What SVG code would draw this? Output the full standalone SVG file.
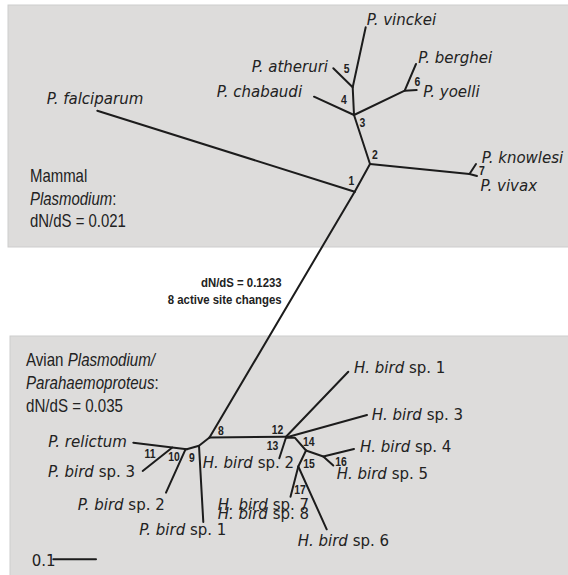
<svg xmlns="http://www.w3.org/2000/svg" width="568" height="575" viewBox="0 0 568 575">
  <style>
    .panel { fill: #dddcdb; stroke: #cdcdcd; stroke-width: 1; }
    .br { stroke: #1c1c1c; stroke-width: 2; fill: none; stroke-linecap: round; stroke-linejoin: round; }
    .taxon { font-family: "DejaVu Sans", Verdana, sans-serif; font-size: 15px; fill: #222; }
    .it { font-style: italic; }
    .head { font-family: "Liberation Sans", Arial, sans-serif; font-size: 18px; fill: #222; }
    .num { font-family: "Liberation Sans", Arial, sans-serif; font-size: 13px; font-weight: bold; fill: #222; text-anchor: middle; }
    .note { font-family: "Liberation Sans", Arial, sans-serif; font-size: 12px; font-weight: bold; fill: #222; text-anchor: end; }
  </style>

  <rect width="568" height="575" fill="#ffffff"/>

  <!-- clade panels -->
  <g id="panel-mammal">
    <rect class="panel" x="8" y="5" width="562" height="242"/>
    <text class="head" transform="translate(30,182) scale(0.83,1)">Mammal</text>
    <text class="head" transform="translate(30,204.5) scale(0.83,1)"><tspan class="it">Plasmodium</tspan>:</text>
    <text class="head" transform="translate(30,227) scale(0.83,1)">dN/dS = 0.021</text>
  </g>
  <g id="panel-avian">
    <rect class="panel" x="10" y="336" width="560" height="240"/>
    <text class="head" transform="translate(26,366) scale(0.84,1)">Avian <tspan class="it">Plasmodium/</tspan></text>
    <text class="head" transform="translate(26,389) scale(0.84,1)"><tspan class="it">Parahaemoproteus</tspan>:</text>
    <text class="head" transform="translate(26,412) scale(0.84,1)">dN/dS = 0.035</text>
  </g>

  <!-- branches -->
  <g id="connectors">
    <!-- mammal subtree -->
    <polyline class="br" points="97.3,110.7 354.7,191.7"/>
    <polyline class="br" points="354.7,191.7 370,164 354,115"/>
    <polyline class="br" points="370,164 469.5,174"/>
    <polyline class="br" points="476,164 469.5,174 477,176"/>
    <polyline class="br" points="354,115 352.7,87.3 365.7,27.3"/>
    <polyline class="br" points="352.7,87.3 333.3,68.3"/>
    <polyline class="br" points="354,115 314,96.7"/>
    <polyline class="br" points="354,115 404.7,90.7 416,64"/>
    <polyline class="br" points="404.7,90.7 416.7,90"/>
    <!-- long internal branch -->
    <polyline class="br" points="354.7,191.7 209.5,437.5"/>
    <!-- avian subtree -->
    <polyline class="br" points="209.5,437.5 286,436.7"/>
    <polyline class="br" points="209.5,437.5 199,445.7 186.7,449.3"/>
    <polyline class="br" points="199,445.7 203.3,522"/>
    <polyline class="br" points="185.5,449.3 166,492.7"/>
    <polyline class="br" points="133.3,442.7 186.7,449.3"/>
    <polyline class="br" points="142.7,471 172.3,447.5"/>
    <polyline class="br" points="286,436.7 348.3,371.7"/>
    <polyline class="br" points="286,437.5 367,415"/>
    <polyline class="br" points="286,437.5 279.3,458.3"/>
    <polyline class="br" points="286,437.8 295,437.8 306,450.5"/>
    <polyline class="br" points="306,450.5 323.3,456.5 354,449"/>
    <polyline class="br" points="323.3,456.5 333.3,465.5"/>
    <polyline class="br" points="306,450.5 298.3,466.5 290.5,496.7"/>
    <polyline class="br" points="298.3,466.5 326.7,529.3"/>
    <!-- scale bar -->
    <line class="br" x1="53.3" y1="559.3" x2="96" y2="559.3" stroke-linecap="butt"/>
  </g>

  <!-- taxa -->
  <g id="taxa">
    <text class="taxon it" x="366.7" y="25">P. vinckei</text>
    <text class="taxon it" x="251.7" y="71.7">P. atheruri</text>
    <text class="taxon it" x="418.3" y="63.3">P. berghei</text>
    <text class="taxon it" x="423.3" y="97">P. yoelli</text>
    <text class="taxon it" x="216.7" y="97.3">P. chabaudi</text>
    <text class="taxon it" x="46.7" y="104">P. falciparum</text>
    <text class="taxon it" x="481.7" y="162.5">P. knowlesi</text>
    <text class="taxon it" x="480.5" y="190.5">P. vivax</text>

    <text class="taxon" x="354" y="373.3"><tspan class="it">H. bird</tspan> sp. 1</text>
    <text class="taxon" x="371.7" y="419.5"><tspan class="it">H. bird</tspan> sp. 3</text>
    <text class="taxon" x="360" y="452"><tspan class="it">H. bird</tspan> sp. 4</text>
    <text class="taxon" x="336.7" y="479"><tspan class="it">H. bird</tspan> sp. 5</text>
    <text class="taxon" x="202.7" y="468.3"><tspan class="it">H. bird</tspan> sp. 2</text>
    <text class="taxon" x="217.7" y="510"><tspan class="it">H. bird</tspan> sp. 7</text>
    <text class="taxon" x="217.7" y="519"><tspan class="it">H. bird</tspan> sp. 8</text>
    <text class="taxon" x="297.7" y="546"><tspan class="it">H. bird</tspan> sp. 6</text>
    <text class="taxon it" x="48.3" y="446.7">P. relictum</text>
    <text class="taxon" x="48" y="476.7"><tspan class="it">P. bird</tspan> sp. 3</text>
    <text class="taxon" x="77.7" y="510"><tspan class="it">P. bird</tspan> sp. 2</text>
    <text class="taxon" x="139.3" y="535"><tspan class="it">P. bird</tspan> sp. 1</text>

    <text class="taxon" x="31.7" y="566">0.1</text>
  </g>

  <!-- node numbers -->
  <g id="node-labels">
    <text class="num" transform="translate(351.5,185) scale(0.8,1)">1</text>
    <text class="num" transform="translate(375,159.3) scale(0.8,1)">2</text>
    <text class="num" transform="translate(362.5,126.5) scale(0.8,1)">3</text>
    <text class="num" transform="translate(344,104) scale(0.8,1)">4</text>
    <text class="num" transform="translate(346.7,73) scale(0.8,1)">5</text>
    <text class="num" transform="translate(417.5,86) scale(0.8,1)">6</text>
    <text class="num" transform="translate(482,175) scale(0.8,1)">7</text>
    <text class="num" transform="translate(221,434.5) scale(0.8,1)">8</text>
    <text class="num" transform="translate(192,461.7) scale(0.8,1)">9</text>
    <text class="num" transform="translate(174,461) scale(0.8,1)">10</text>
    <text class="num" transform="translate(150,458.3) scale(0.8,1)">11</text>
    <text class="num" transform="translate(277.5,434.3) scale(0.8,1)">12</text>
    <text class="num" transform="translate(272.5,450) scale(0.8,1)">13</text>
    <text class="num" transform="translate(308.7,446) scale(0.8,1)">14</text>
    <text class="num" transform="translate(309,468.3) scale(0.8,1)">15</text>
    <text class="num" transform="translate(341,466) scale(0.8,1)">16</text>
    <text class="num" transform="translate(300,494.3) scale(0.8,1)">17</text>
  </g>

  <!-- branch annotation -->
  <g id="branch-note">
    <text class="note" transform="translate(281.7,286.7) scale(0.95,1)">dN/dS = 0.1233</text>
    <text class="note" transform="translate(281.7,304.3) scale(0.95,1)">8 active site changes</text>
  </g>
</svg>
